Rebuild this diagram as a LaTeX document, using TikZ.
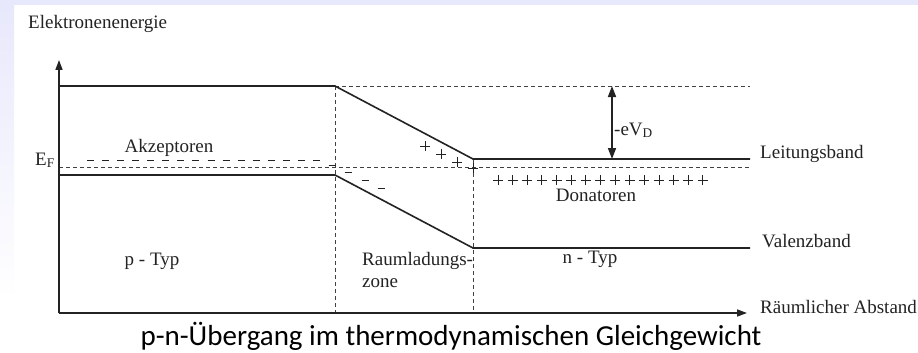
\documentclass[tikz,border=0pt]{standalone}
\usepackage{fontspec}
\setmainfont{Liberation Serif}
\newfontfamily\captionfont{Carlito}
\usepackage{tikz}
\usetikzlibrary{arrows.meta}
\definecolor{bandGray}{RGB}{35,35,35}
\definecolor{guideGray}{RGB}{65,65,65}
\definecolor{slideLavender}{RGB}{232,232,252}

\begin{document}
\begin{tikzpicture}[x=1pt,y=-1pt,
  band/.style={bandGray, line width=1.6pt},
  guide/.style={guideGray, line width=1pt, dash pattern=on 4pt off 3pt},
  charge/.style={bandGray, line width=1pt},
  lbl/.style={text=bandGray, font=\fontsize{19}{21}\selectfont, inner sep=0pt}]
\useasboundingbox (0,0) rectangle (918,353);
% slide background
\fill[white] (0,0) rectangle (918,353);
\fill[slideLavender] (0,0) rectangle (918,5);
\shade[top color=slideLavender, bottom color=white] (0,5) rectangle (14,300);
% band edges
\coordinate (orig) at (59,313);
\coordinate (cbP0) at (59,86);
\coordinate (cbP1) at (335,86);
\coordinate (cbN0) at (473,159);
\coordinate (cbN1) at (750,159);
\coordinate (vbP0) at (59,175);
\coordinate (vbP1) at (335,175);
\coordinate (vbN0) at (473,248);
\coordinate (vbN1) at (750,248);
\coordinate (cbTop) at (750,86);
\coordinate (efL) at (59,167);
\coordinate (efR) at (750,167);
\coordinate (rzL) at (335,313);
\coordinate (rzR) at (473,313);
\coordinate (vdTop) at (612,86);
\coordinate (vdBot) at (612,159);
\draw[guide] (cbP1) -- (cbTop);
\draw[guide] (efL) -- (efR);
\draw[guide] (cbP1) -- (rzL);
\draw[guide] (cbN0) -- (rzR);
\draw[band] (cbP0) -- (cbP1) -- (cbN0) -- (cbN1);
\draw[band] (vbP0) -- (vbP1) -- (vbN0) -- (vbN1);
% axes
\draw[band, -{Triangle[width=7,length=10]}] (orig) -- (59,60);
\draw[band, -{Triangle[width=7,length=10]}] (orig) -- (747,313);
\draw[band, {Triangle[width=8,length=11]}-{Triangle[width=8,length=11]}] (vdTop) -- (vdBot);
% charges
\foreach \i in {0,...,15}
  \draw[charge] ({87+15.07*\i},160) -- +(7,0);
\foreach \x/\y in {332/165,348/172,365/180,381/188}
  \draw[charge] ({\x-3.5},\y) -- +(7,0);
\foreach \x/\y in {425/146,441/154,457/162,473/168}
  \draw[charge] ({\x-5},\y) -- +(10,0) (\x,{\y-5}) -- +(0,10);
\foreach \i in {0,...,14}
  \draw[charge] ({493+14.64*\i},180) -- +(10,0) ({498+14.64*\i},175) -- +(0,10);
% labels
\node[lbl, anchor=base west] (yLbl) at (28,29) {Elektronenenergie};
\node[lbl, anchor=base] (akz) at (169,152) {Akzeptoren};
\node[lbl, anchor=base west] (ef) at (35,165) {E\textsubscript{F}};
\node[lbl, anchor=base west] (vd) at (614,135) {-eV\textsubscript{D}};
\node[lbl, anchor=base west] (lb) at (760,158) {Leitungsband};
\node[lbl, anchor=base] (don) at (596,201) {Donatoren};
\node[lbl, anchor=base west] (vb) at (762,247) {Valenzband};
\node[lbl, anchor=base] (pTyp) at (152,265) {p - Typ};
\node[lbl, anchor=base west] (rz) at (362,265) {Raumladungs-};
\node[lbl, anchor=base west] (rz2) at (362,287) {zone};
\node[lbl, anchor=base] (nTyp) at (590,263) {n - Typ};
\node[lbl, anchor=base west] (xLbl) at (760,313) {Räumlicher Abstand};
\node[text=black, font=\captionfont\fontsize{29}{32}\selectfont, anchor=base, inner sep=0pt] (cap) at (451,345) {p-n-Übergang im thermodynamischen Gleichgewicht};
\end{tikzpicture}
\end{document}
